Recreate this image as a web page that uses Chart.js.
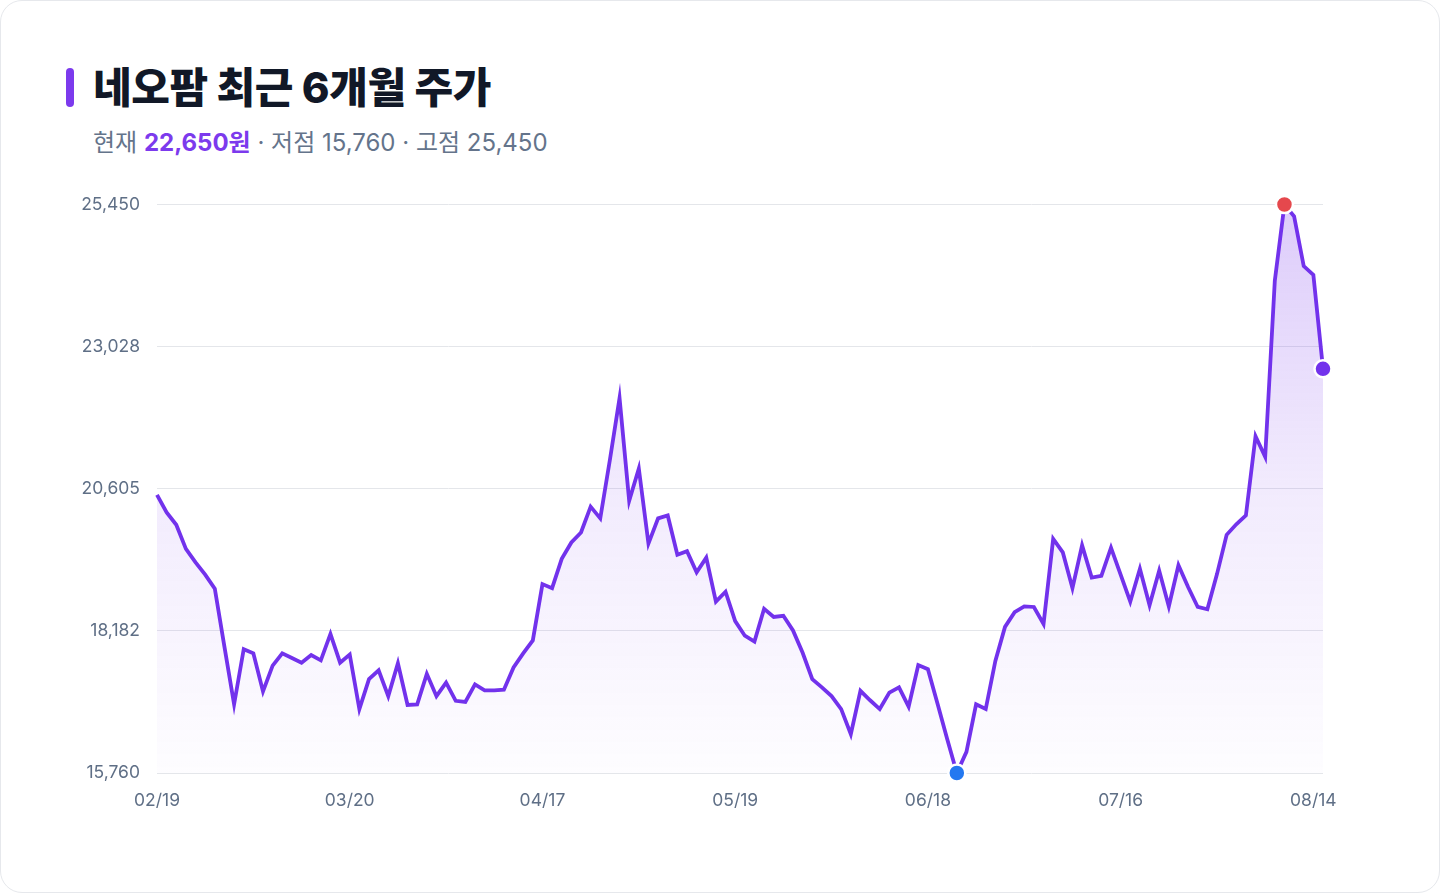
<!DOCTYPE html>
<html lang="ko">
<head>
<meta charset="utf-8">
<title>네오팜 최근 6개월 주가</title>
<script src="https://cdn.jsdelivr.net/npm/chart.js@4.4.1/dist/chart.umd.min.js"></script>
<style>
    html, body {
        margin: 0;
        padding: 0;
        background: #ffffff;
    }
    body {
        width: 1440px;
        height: 893px;
        overflow: hidden;
        font-family: "Inter", "Noto Sans CJK KR", sans-serif;
    }
    .card {
        position: absolute;
        left: 0;
        top: 0;
        width: 1438px;
        height: 891px;
        border: 1px solid #e6e8ec;
        border-radius: 22px;
        background: #ffffff;
    }
    .title-bar {
        position: absolute;
        left: 65px;
        top: 67px;
        width: 8px;
        height: 39px;
        border-radius: 4px;
        background: #7c3aed;
    }
    .title {
        position: absolute;
        left: 92px;
        top: 58px;
        margin: 0;
        font-size: 42px;
        font-weight: 800;
        letter-spacing: -0.4px;
        color: #111827;
        line-height: 58px;
        white-space: nowrap;
    }
    .subtitle {
        position: absolute;
        left: 92px;
        top: 125px;
        margin: 0;
        font-size: 24px;
        line-height: 34px;
        color: #64748b;
        white-space: nowrap;
    }
    .subtitle strong {
        color: #7c3aed;
        font-weight: 700;
    }
    .chart-box {
        position: absolute;
        left: 60px;
        top: 176px;
        width: 1320px;
        height: 654px;
    }
</style>
</head>
<body>
<div class="card">
    <div class="title-bar"></div>
    <h1 class="title">네오팜 최근 6개월 주가</h1>
    <p class="subtitle">현재 <strong>22,650원</strong> · 저점 15,760 · 고점 25,450</p>
    <div class="chart-box"><canvas id="priceChart"></canvas></div>
</div>
<script>
// daily closes, 02/19 .. 08/15 (122 trading days)
const prices = [
    20500, 20200, 19990, 19580, 19350, 19140, 18900, 17910, 16930, 17870,
    17800, 17150, 17590, 17800, 17720, 17640, 17770, 17680, 18130, 17640,
    17780, 16850, 17360, 17510, 17070, 17630, 16920, 16930, 17450, 17070,
    17300, 16990, 16970, 17270, 17170, 17170, 17180, 17560, 17800, 18020,
    18980, 18910, 19410, 19690, 19860, 20300, 20100, 21100, 22150, 20400,
    20950, 19670, 20100, 20150, 19480, 19540, 19180, 19430, 18680, 18850,
    18350, 18100, 18000, 18560, 18420, 18440, 18190, 17810, 17360, 17220,
    17070, 16850, 16420, 17160, 17000, 16850, 17130, 17220, 16890, 17600,
    17530, 16940, 16340, 15760, 16120, 16930, 16850, 17670, 18250, 18500,
    18600, 18590, 18300, 19750, 19520, 18910, 19640, 19090, 19120, 19600,
    19140, 18680, 19240, 18620, 19210, 18600, 19300, 18930, 18590, 18550,
    19150, 19820, 20000, 20150, 21500, 21150, 24150, 25450, 25250, 24400,
    24250, 22650,
];

// one label every 20 trading days
const tickLabels = ["02/19", "03/20", "04/17", "05/19", "06/18", "07/16", "08/14"];
const TICK_EVERY = 20;

const yTicks = [15760, 18182, 20605, 23028, 25450];

const labels = prices.map((_, i) => (i % TICK_EVERY === 0 ? tickLabels[i / TICK_EVERY] : ""));

const lowIndex = prices.indexOf(Math.min(...prices));
const highIndex = prices.indexOf(Math.max(...prices));
const lastIndex = prices.length - 1;

const LINE_COLOR = "#7232ec";
const TICK_COLOR = "#5f6f86";

function markerColor(i) {
    if (i === highIndex) return "#e5484d";
    if (i === lowIndex) return "#2478f0";
    return LINE_COLOR;
}

function isMarker(i) {
    return i === highIndex || i === lowIndex || i === lastIndex;
}

function areaGradient(context) {
    const { chart } = context;
    const area = chart.chartArea;
    if (!area) return "rgba(124, 58, 237, 0.15)";
    const g = chart.ctx.createLinearGradient(0, area.top, 0, area.bottom);
    g.addColorStop(0, "rgba(124, 58, 237, 0.26)");
    g.addColorStop(0.5, "rgba(124, 58, 237, 0.10)");
    g.addColorStop(1, "rgba(124, 58, 237, 0.01)");
    return g;
}

new Chart(document.getElementById("priceChart"), {
    type: "line",
    data: {
        labels,
        datasets: [{
            data: prices,
            borderColor: LINE_COLOR,
            borderWidth: 3.8,
            borderJoinStyle: "miter",
            backgroundColor: areaGradient,
            fill: "start",
            tension: 0,
            pointRadius: (ctx) => (isMarker(ctx.dataIndex) ? 8.5 : 0),
            pointHoverRadius: (ctx) => (isMarker(ctx.dataIndex) ? 8.5 : 0),
            pointBackgroundColor: (ctx) => markerColor(ctx.dataIndex),
            pointBorderColor: "#ffffff",
            pointBorderWidth: 2.5,
        }],
    },
    options: {
        responsive: true,
        maintainAspectRatio: false,
        animation: false,
        clip: false,
        layout: {
            padding: { left: 0, right: 58, top: 20, bottom: 0 },
        },
        plugins: {
            legend: { display: false },
            tooltip: { enabled: false },
        },
        scales: {
            x: {
                offset: false,
                grid: { display: false, drawTicks: false },
                border: { display: false },
                afterFit: (scale) => { scale.height = 58; },
                ticks: {
                    autoSkip: false,
                    maxRotation: 0,
                    padding: 17,
                    color: TICK_COLOR,
                    font: { family: "Inter, 'Noto Sans CJK KR'", size: 17.5 },
                    callback: (value, index) => labels[index] || null,
                },
            },
            y: {
                min: yTicks[0],
                max: yTicks[yTicks.length - 1],
                afterBuildTicks: (scale) => {
                    scale.ticks = yTicks.map((v) => ({ value: v }));
                },
                afterFit: (scale) => { scale.width = 96; },
                grid: { color: "#e4e6ea", lineWidth: 1, drawTicks: false },
                border: { display: false },
                ticks: {
                    padding: 17,
                    color: TICK_COLOR,
                    font: { family: "Inter, 'Noto Sans CJK KR'", size: 17.5 },
                    callback: (value) => Number(value).toLocaleString("en-US"),
                },
            },
        },
    },
});
</script>
</body>
</html>
